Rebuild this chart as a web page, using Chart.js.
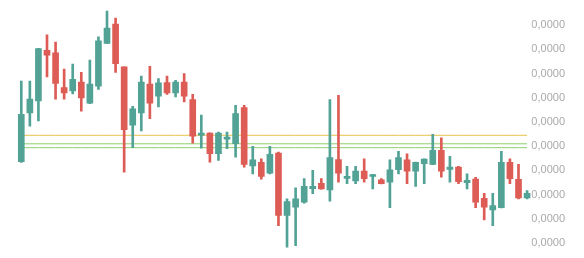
<!DOCTYPE html>
<html>
<head>
<meta charset="utf-8">
<script src="https://cdn.jsdelivr.net/npm/chart.js@4.4.1/dist/chart.umd.min.js"></script>
<style>
  html, body { margin: 0; padding: 0; background: #ffffff; }
  #wrap { width: 584px; height: 258px; position: relative; }
</style>
</head>
<body>
<div id="wrap"><canvas id="c" width="584" height="258"></canvas></div>
<script>
// Prices are stored in micro-units (1 unit = 0.000001); axis labels show 4 decimals -> "0,0000"
const PRICE_UNIT = 1e-6;

const categories = Array.from({length: 60}, (_, i) => 'P' + (i + 1));

const opens = [13.36,15.37,15.87,17.96,17.85,16.42,16.28,16.65,15.78,16.48,
               18.24,19.04,17.27,14.87,15.37,16.56,16.06,16.63,16.20,16.65,
               15.92,14.46,14.54,13.69,14.29,14.10,15.59,13.19,13.34,12.89,
               13.72,11.14,11.48,11.69,12.25,12.47,12.20,13.45,12.67,12.57,
               12.97,12.75,12.61,12.52,13.03,13.44,12.97,13.28,13.25,13.83,
               13.04,13.14,12.50,12.64,11.85,11.37,11.46,13.34,12.63,11.87];
const highs = [16.69,16.69,18.04,18.60,18.30,17.18,17.39,17.05,17.55,18.51,
               19.58,19.29,17.28,15.65,16.89,17.30,16.79,16.89,16.72,17.00,
               16.14,15.28,14.55,14.58,14.58,15.69,15.69,13.99,13.48,13.99,
               13.76,11.83,12.28,12.66,13.00,12.66,15.92,16.10,13.17,13.17,
               13.48,12.84,12.66,13.44,13.79,13.69,13.35,13.48,14.49,14.35,
               13.58,13.17,12.86,12.72,12.06,12.06,13.79,13.48,13.25,12.17];
const lows = [13.33,14.83,15.04,16.86,15.94,15.94,16.16,15.45,15.76,16.34,
              18.23,17.04,12.93,13.94,14.63,15.14,15.62,16.14,16.03,15.83,
              14.13,13.92,13.34,13.41,13.90,13.55,13.14,12.86,12.64,12.86,
              10.72, 9.83, 9.90,11.65,12.04,12.23,11.73,12.52,12.45,12.45,
              12.52,12.24,12.44,11.46,12.86,12.45,12.34,12.45,13.24,12.72,
              12.52,12.45,12.24,11.46,10.96,10.72,11.45,12.45,11.83,11.83];
const closes = [15.32,15.94,18.03,17.76,16.59,16.20,16.76,15.99,16.56,18.35,
                18.87,17.41,14.68,15.54,16.65,15.78,16.61,16.20,16.65,16.06,
                14.41,14.54,13.69,14.54,14.38,15.35,13.25,13.44,12.75,13.66,
                11.14,11.72,11.83,12.34,12.34,12.24,13.53,12.89,12.75,12.97,
                12.66,12.83,12.45,13.03,13.53,12.97,13.34,13.47,13.83,12.97,
                13.14,12.54,12.59,11.69,11.48,11.55,13.34,12.66,11.87,12.06];

const yellowLevel = 14.45;
const greenLevels = [14.10, 13.94];
const tickValues = [10, 11, 12, 13, 14, 15, 16, 17, 18, 19];

const UP = '#52a296';
const DOWN = '#dd5c55';
const candleColors = opens.map((o, i) => closes[i] >= o ? UP : DOWN);

const bodies = opens.map((o, i) => [o, closes[i]]);
const wicks = lows.map((l, i) => [l, highs[i]]);

const levelLine = (value, color) => ({
  type: 'line',
  data: categories.map(() => value),
  borderColor: color,
  borderWidth: 1,
  pointRadius: 0,
  fill: false,
  order: 3
});

new Chart(document.getElementById('c'), {
  type: 'bar',
  data: {
    labels: categories,
    datasets: [
      levelLine(yellowLevel, '#e6c34c'),
      levelLine(greenLevels[0], '#8fce6c'),
      levelLine(greenLevels[1], '#8fce6c'),
      { type: 'bar', data: wicks, backgroundColor: candleColors, barThickness: 2, borderWidth: 0, order: 2 },
      { type: 'bar', data: bodies, backgroundColor: candleColors, barThickness: 6, minBarLength: 2, borderWidth: 0, order: 1 }
    ]
  },
  options: {
    responsive: false,
    animation: false,
    events: [],
    datasets: { bar: { grouped: false } },
    layout: { padding: { left: 17, right: 19, top: 0, bottom: 0 } },
    plugins: { legend: { display: false }, tooltip: { enabled: false } },
    scales: {
      x: { display: false, offset: true, grid: { display: false } },
      y: {
        position: 'right',
        min: 9.66,
        max: 19.76,
        grid: { display: false, drawTicks: false },
        border: { display: false },
        afterBuildTicks: (axis) => { axis.ticks = tickValues.map(v => ({ value: v })); },
        ticks: {
          padding: 0,
          color: '#a9a9a9',
          font: { family: 'Liberation Sans, Arial, sans-serif', size: 11 },
          callback: (v) => (v * PRICE_UNIT).toFixed(4).replace('.', ',')
        }
      }
    }
  }
});
</script>
</body>
</html>
